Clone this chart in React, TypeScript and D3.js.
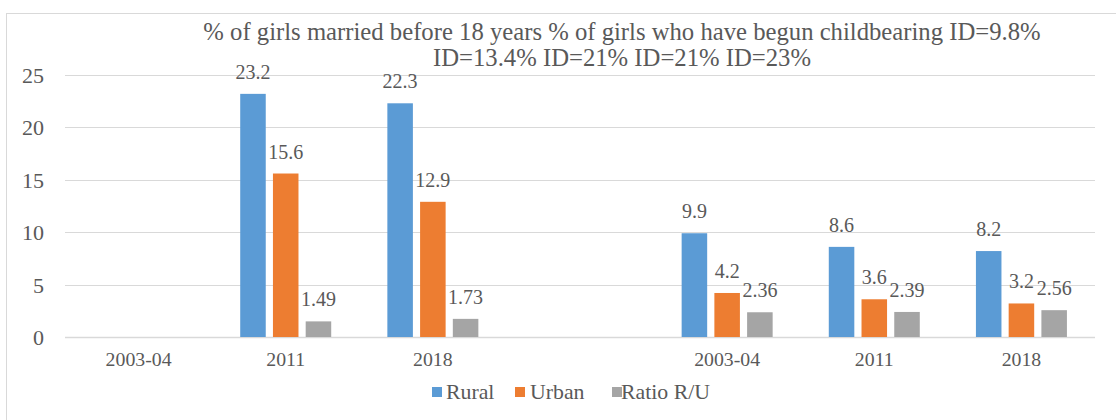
import React from "react";
import * as d3 from "d3";

// Survey rounds, two panels separated by an empty slot
const categories = ["2003-04", "2011", "2018", "", "2003-04 ", "2011 ", "2018 "];
const categoryLabels = ["2003-04", "2011", "2018", "", "2003-04", "2011", "2018"];
const seriesNames = ["Rural", "Urban", "Ratio R/U"];
const rural: (number | null)[] = [null, 23.2, 22.3, null, 9.9, 8.6, 8.2];
const urban: (number | null)[] = [null, 15.6, 12.9, null, 4.2, 3.6, 3.2];
const ratio: (number | null)[] = [null, 1.49, 1.73, null, 2.36, 2.39, 2.56];
const yTicks = [0, 5, 10, 15, 20, 25];
const titleLines = [
  "% of girls married before 18 years % of girls who have begun childbearing ID=9.8%",
  "ID=13.4% ID=21% ID=21% ID=23%",
];

const colors = ["#5B9BD5", "#ED7D31", "#A5A5A5"];
const seriesValues = [rural, urban, ratio];

const W = 1116;
const H = 420;
const FONT = "Liberation Serif";
const TEXT = "#595959";
const textStyle = { fontFamily: FONT };

export default function App() {
  const left = 65;
  const right = 1095;
  const top = 75;
  const bottom = 337;

  const x = d3.scaleBand<string>().domain(categories).range([left, right]).padding(0);
  const x1 = d3.scaleBand<string>().domain(seriesNames).range([-45.5, 45.5]).paddingInner(0.22);
  const y = d3.scaleLinear().domain([0, 25]).range([bottom, top]);

  const legendItems = [
    { name: seriesNames[0], sx: 432, tx: 446 },
    { name: seriesNames[1], sx: 515, tx: 530 },
    { name: seriesNames[2], sx: 612, tx: 621 },
  ];

  return (
    <svg width={W} height={H} style={{ position: "absolute", left: 0, top: 0, background: "#fff", fontFamily: FONT }}>
      <rect x={6.5} y={13.5} width={1200} height={500} fill="#fff" stroke="#D9D9D9" strokeWidth={1} />

      {titleLines.map((t, i) => (
        <text key={i} x={622} y={40 + i * 26} textAnchor="middle" fontSize={24.7} fill={TEXT} style={textStyle}>
          {t}
        </text>
      ))}

      {yTicks.map((t) => (
        <g key={t}>
          <line x1={left} x2={right} y1={Math.round(y(t)) + 0.5} y2={Math.round(y(t)) + 0.5} stroke="#D9D9D9" strokeWidth={t === 0 ? 1.5 : 1} />
          <text x={44} y={y(t) + 8} textAnchor="end" fontSize={22} fill={TEXT} style={textStyle}>
            {t}
          </text>
        </g>
      ))}

      {categories.map((c, ci) => {
        const cx = (x(c) ?? 0) + x.bandwidth() / 2;
        return (
          <g key={c + ci}>
            <text x={cx} y={366} textAnchor="middle" fontSize={19.8} fill={TEXT} style={textStyle}>
              {categoryLabels[ci]}
            </text>
            {seriesNames.map((s, si) => {
              const v = seriesValues[si][ci];
              if (v == null) return null;
              const bx = cx + (x1(s) ?? 0);
              const bw = x1.bandwidth();
              return (
                <g key={s}>
                  <rect x={bx} y={y(v)} width={bw} height={bottom - y(v)} fill={colors[si]} />
                  <text x={bx + bw / 2} y={y(v) - 15} textAnchor="middle" fontSize={20} fill={TEXT} style={textStyle}>
                    {v}
                  </text>
                </g>
              );
            })}
          </g>
        );
      })}

      {legendItems.map((l, i) => (
        <g key={l.name}>
          <rect x={l.sx} y={387} width={10} height={10} fill={colors[i]} />
          <text x={l.tx} y={399} fontSize={21.8} fill={TEXT} style={textStyle}>
            {l.name}
          </text>
        </g>
      ))}
    </svg>
  );
}
